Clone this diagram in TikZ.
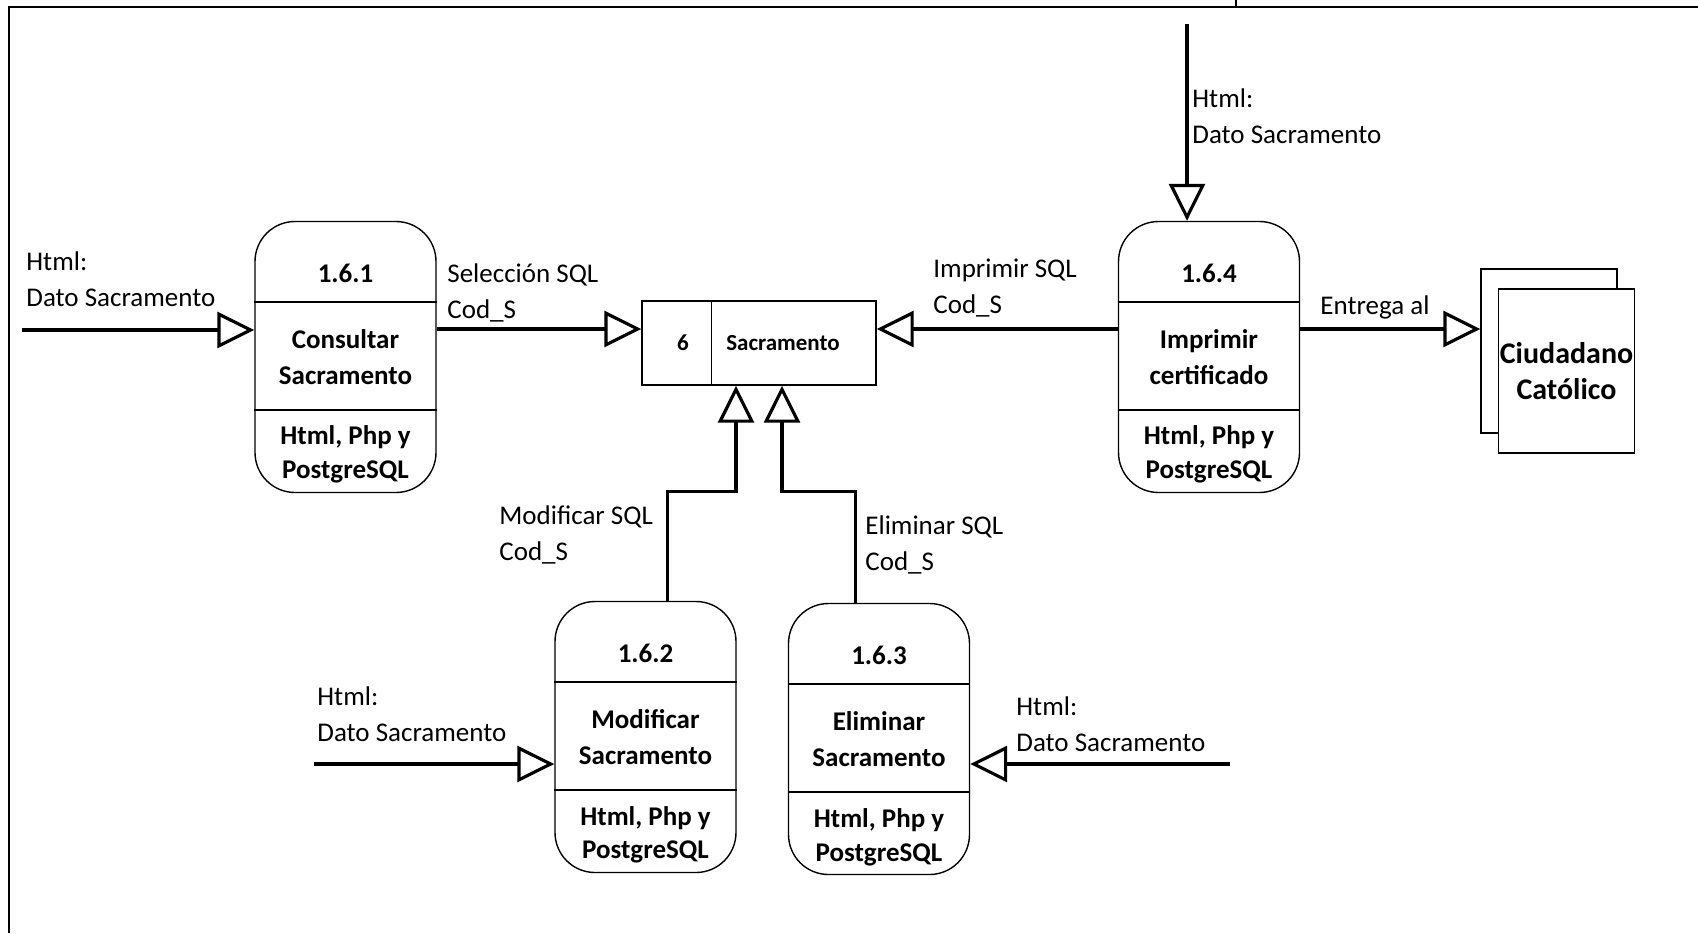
\documentclass[tikz,border=0pt]{standalone}
\usepackage{fontspec}
\setmainfont{Carlito}
\usetikzlibrary{arrows.meta,positioning}

\tikzset{
    proc/.style = {draw, line width = 0.7pt, rounded corners = 20pt, minimum width = 90.5pt, minimum height = 135.5pt, inner sep = 0pt},
    sep/.style = {line width = 0.7pt},
    bx/.style = {font = \bfseries\fontsize{13.5}{18}\selectfont, align = center, inner sep = 0pt},
    hw/.style = {font = \bfseries\fontsize{13.5}{17}\selectfont, align = center, inner sep = 0pt},
    ent/.style = {draw, line width = 0.7pt, fill = white, minimum width = 68pt, minimum height = 82pt, inner sep = 0pt},
    flow/.style = {line width = 1.6pt, -{Triangle[open, length = 18.5pt, width = 18pt]}},
    lbl/.style = {anchor = west, align = left, inner sep = 0pt, font = \fontsize{13.5}{18}\selectfont}
}

\begin{document}
\begin{tikzpicture}[x = 0.5pt, y = -0.5pt]

    \useasboundingbox (0, 0) rectangle (1698, 933);

    \draw[line width = 1pt] (9, 933) -- (9, 6.5) -- (1698, 6.5);
    \draw[line width = 0.6pt] (1236, 0) -- (1236, 6.5);

    \node[proc] (p161) at (345.5, 357) {};
    \draw[sep] ([yshift = -40.5pt]p161.north west) -- ([yshift = -40.5pt]p161.north east);
    \draw[sep] ([yshift = -94.5pt]p161.north west) -- ([yshift = -94.5pt]p161.north east);
    \node[bx] (p161n) at ([yshift = -26.5pt]p161.north) {1.6.1};
    \node[bx] (p161t) at (p161.center) {Consultar\\Sacramento};
    \node[hw] (p161h) at ([yshift = -117pt]p161.north) {Html, Php y\\PostgreSQL};

    \node[proc] (p162) at (645.5, 737) {};
    \draw[sep] ([yshift = -40.5pt]p162.north west) -- ([yshift = -40.5pt]p162.north east);
    \draw[sep] ([yshift = -94.5pt]p162.north west) -- ([yshift = -94.5pt]p162.north east);
    \node[bx] (p162n) at ([yshift = -26.5pt]p162.north) {1.6.2};
    \node[bx] (p162t) at (p162.center) {Modificar\\Sacramento};
    \node[hw] (p162h) at ([yshift = -117pt]p162.north) {Html, Php y\\PostgreSQL};

    \node[proc] (p163) at (879, 739) {};
    \draw[sep] ([yshift = -40.5pt]p163.north west) -- ([yshift = -40.5pt]p163.north east);
    \draw[sep] ([yshift = -94.5pt]p163.north west) -- ([yshift = -94.5pt]p163.north east);
    \node[bx] (p163n) at ([yshift = -26.5pt]p163.north) {1.6.3};
    \node[bx] (p163t) at (p163.center) {Eliminar\\Sacramento};
    \node[hw] (p163h) at ([yshift = -117pt]p163.north) {Html, Php y\\PostgreSQL};

    \node[proc] (p164) at (1209, 357) {};
    \draw[sep] ([yshift = -40.5pt]p164.north west) -- ([yshift = -40.5pt]p164.north east);
    \draw[sep] ([yshift = -94.5pt]p164.north west) -- ([yshift = -94.5pt]p164.north east);
    \node[bx] (p164n) at ([yshift = -26.5pt]p164.north) {1.6.4};
    \node[bx] (p164t) at (p164.center) {Imprimir\\certificado};
    \node[hw] (p164h) at ([yshift = -117pt]p164.north) {Html, Php y\\PostgreSQL};

    \node[draw, line width = 0.7pt, minimum width = 117pt, minimum height = 42pt] (store) at (759, 343) {};
    \draw[sep] ([xshift = 35pt]store.north west) -- ([xshift = 35pt]store.south west);
    \node[font = \bfseries\fontsize{11.5}{14}\selectfont] (storen) at (683, 343) {6};
    \node[font = \bfseries\fontsize{11.5}{14}\selectfont] (storet) at (783, 343) {Sacramento};

    \node[ent] (ciudb) at (1549, 351) {};
    \node[ent, font = \bfseries\fontsize{15}{18}\selectfont, align = center] (ciud) at (1566.5, 371) {Ciudadano\\Católico};

    \coordinate (lvl) at (0, 329);
    \coordinate (in1) at (22, 330);
    \coordinate (in2) at (314, 764);
    \coordinate (in3) at (1230, 764);
    \coordinate (in4) at (1187, 24);

    \draw[flow] (in1) -- (in1 -| p161.west);
    \draw[flow] (p161.east |- lvl) -- (store.west |- lvl);
    \draw[flow] (p164.west |- lvl) -- (store.east |- lvl);
    \draw[flow] (p164.east |- lvl) -- (ciudb.west |- lvl);
    \draw[flow] (in4) -- (in4 |- p164.north);
    \draw[flow] ([xshift = 11pt]p162.north) -- ++(0, -109) -| ([xshift = -11.5pt]store.south);
    \draw[flow] ([xshift = -11.75pt]p163.north) -- ++(0, -111) -| ([xshift = 11.5pt]store.south);
    \draw[flow] (in2) -- (in2 -| p162.west);
    \draw[flow] (in3) -- (in3 -| p163.east);

    \node[lbl] (lin1) at (26, 279.5) {Html:\\Dato Sacramento};
    \node[lbl] (lsel) at (447, 293) {Selección SQL\\Cod\_S};
    \node[lbl] (limp) at (933, 288.5) {Imprimir SQL\\Cod\_S};
    \node[lbl] (lin4) at (1192, 116) {Html:\\Dato Sacramento};
    \node[lbl] (lent) at (1320, 307.5) {Entrega al};
    \node[lbl] (lmod) at (499, 535) {Modificar SQL\\Cod\_S};
    \node[lbl] (lelim) at (865, 545) {Eliminar SQL\\Cod\_S};
    \node[lbl] (lin2) at (317, 714.5) {Html:\\Dato Sacramento};
    \node[lbl] (lin3) at (1016, 724.5) {Html:\\Dato Sacramento};

\end{tikzpicture}
\end{document}
